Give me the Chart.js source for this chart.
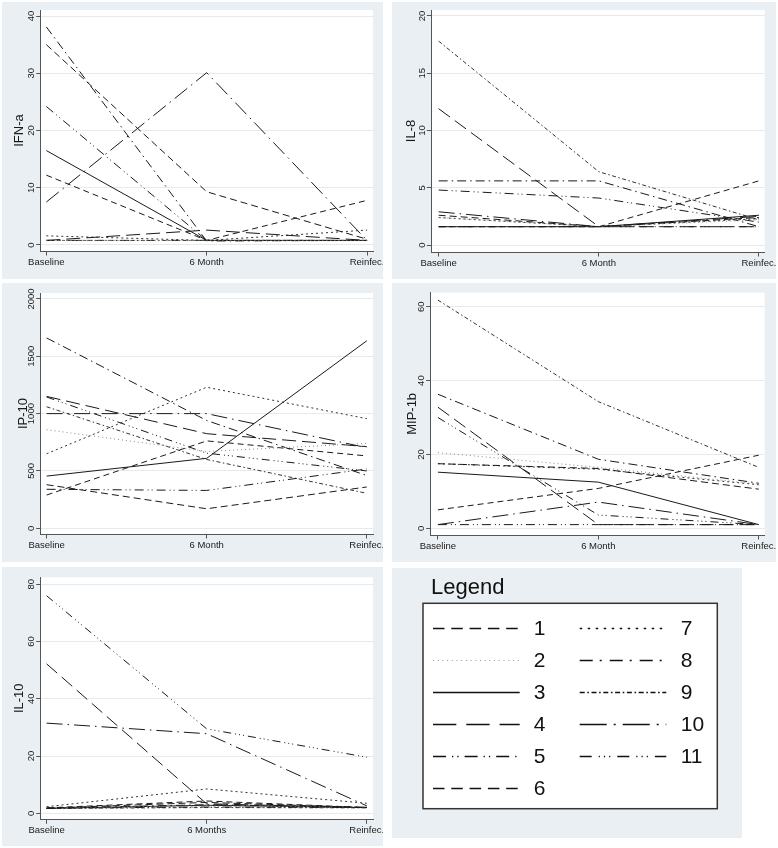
<!DOCTYPE html>
<html><head><meta charset="utf-8">
<script src="https://cdn.jsdelivr.net/npm/chart.js@4.4.1/dist/chart.umd.min.js"></script>
<style>
html,body{margin:0;padding:0;background:#fff;width:778px;height:848px;overflow:hidden}
canvas{position:absolute;background:#e9eff2}
</style></head><body>
<canvas id="p1" width="381" height="277" style="left:2px;top:2px"></canvas>
<canvas id="p2" width="384" height="277" style="left:392px;top:2px"></canvas>
<canvas id="p3" width="381" height="279" style="left:2px;top:283px"></canvas>
<canvas id="p4" width="384" height="279" style="left:392px;top:283px"></canvas>
<canvas id="p5" width="381" height="279" style="left:2px;top:567px"></canvas>
<canvas id="lg" width="350" height="270" style="left:392px;top:568px"></canvas>
<script>
// ---------- data ----------
const categories = ['Baseline', '6 Month', 'Reinfec.'];
const categoriesIL10 = ['Baseline', '6 Months', 'Reinfec.'];
const seriesNames = ['1','2','3','4','5','6','7','8','9','10','11'];

const ifnA = [
  [35.0, 9.3, 1.0],
  [0.8, 0.8, 0.8],
  [16.5, 0.8, 0.8],
  [0.8, 2.6, 0.8],
  [24.2, 0.8, 0.8],
  [12.2, 0.8, 7.8],
  [1.6, 0.8, 2.6],
  [38.1, 0.7, 0.8],
  [0.8, 0.8, 0.8],
  [7.5, 30.1, 0.8],
  [0.8, 0.8, 0.8]
];
const ifnATicks = [0, 10, 20, 30, 40];

const il8 = [
  [2.6, 1.6, 2.4],
  [2.4, 1.6, 2.2],
  [1.6, 1.6, 2.6],
  [11.9, 1.6, 1.6],
  [4.8, 4.1, 2.0],
  [1.6, 1.6, 5.6],
  [2.4, 1.6, 2.3],
  [5.6, 5.6, 1.6],
  [17.8, 6.4, 2.2],
  [2.9, 1.6, 2.5],
  [1.6, 1.6, 1.6]
];
const il8Ticks = [0, 5, 10, 15, 20];

const ip10 = [
  [380, 170, 360],
  [860, 670, 740],
  [455, 610, 1635],
  [1150, 825, 712],
  [340, 330, 517],
  [290, 762, 631],
  [650, 1230, 956],
  [1660, 940, 460],
  [1060, 600, 305],
  [1000, 1000, 703],
  [1145, 655, 500]
];
const ip10Ticks = [0, 500, 1000, 1500, 2000];

const mip1b = [
  [17.5, 16.2, 10.6],
  [20.5, 16.5, 12.0],
  [15.2, 12.5, 1.0],
  [32.8, 1.0, 1.0],
  [1.0, 1.0, 1.0],
  [5.0, 10.8, 19.8],
  [17.5, 16.0, 11.8],
  [36.3, 18.7, 12.2],
  [61.8, 34.3, 16.5],
  [1.0, 7.1, 1.0],
  [30.0, 3.6, 1.0]
];
const mip1bTicks = [0, 20, 40, 60];

const il10 = [
  [1.8, 3.8, 2.0],
  [2.0, 2.5, 2.2],
  [1.7, 2.8, 2.0],
  [52.2, 3.3, 2.0],
  [1.8, 2.2, 2.0],
  [1.9, 4.3, 2.0],
  [2.3, 8.5, 3.5],
  [1.8, 3.0, 2.1],
  [1.7, 2.0, 1.9],
  [31.5, 27.8, 2.6],
  [76.0, 29.5, 19.6]
];
const il10Ticks = [0, 20, 40, 60, 80];

// ---------- styles ----------
const FONT = "'Liberation Sans', Arial, Helvetica, sans-serif";
Chart.defaults.font.family = FONT;
Chart.defaults.color = '#1a1a1a';
const lineColors = ['#1a1a1a','#8a8a8a','#1a1a1a','#1a1a1a','#1a1a1a','#1a1a1a','#333','#1a1a1a','#333','#1a1a1a','#1a1a1a'];
const plotDash = [
  [7,4], [1,3], [], [14,6], [9,4,1,3,1,4], [6,4], [2,3],
  [9,4,1.5,4], [4,2.5,1.5,2.5], [16,5,1.5,5], [8,4,1,3,1,3,1,4]
];
const legendDash = [
  [11.5,6.8], [1,3.7], [], [23.3,10], [13,6,1.3,4,1.3,6], [11.5,6.8], [2.5,5.5],
  [13,7,2,8], [5,2.6,1.6,2.6], [27,7,2,7], [12,7,1.2,4,1.2,4,1.2,7]
];
const TICK_SIZE = 9.5, TICK_LEN = 4.5, TITLE_SIZE = 13;

const mctx = document.createElement('canvas').getContext('2d');
function widest(labels) {
  mctx.font = TICK_SIZE + 'px ' + FONT;
  return Math.max(...labels.map(l => mctx.measureText(String(l)).width));
}

const plotBg = {
  id: 'plotBg',
  beforeDraw(chart) {
    const a = chart.chartArea, c = chart.ctx;
    c.save(); c.fillStyle = '#ffffff';
    c.fillRect(a.left, a.top, a.right - a.left, a.bottom - a.top);
    c.restore();
  }
};

function makePanel(id, values, cats, yTicks, yTitle, g) {
  const datasets = values.map((row, i) => ({
    label: seriesNames[i],
    data: row.map((v, j) => ({ x: j, y: v })),
    borderColor: lineColors[i],
    borderWidth: 1,
    borderDash: plotDash[i],
    pointRadius: 0,
    fill: false,
    tension: 0
  }));
  const pad = 9 - TICK_LEN - widest(yTicks) / 2;
  new Chart(document.getElementById(id), {
    type: 'line',
    data: { datasets },
    plugins: [plotBg],
    options: {
      responsive: false,
      animation: false,
      events: [],
      layout: { padding: { left: 0, top: g.pt, right: g.pr, bottom: 0 } },
      plugins: { legend: { display: false }, tooltip: { enabled: false } },
      scales: {
        x: {
          type: 'linear', min: g.xMin, max: g.xMax,
          afterBuildTicks: s => { s.ticks = cats.map((c, i) => ({ value: i })); },
          afterFit: s => { s.height = g.H; s.paddingLeft = 0; s.paddingRight = 0; },
          ticks: { callback: v => cats[v], font: { size: TICK_SIZE }, padding: 0.8, maxRotation: 0, autoSkip: false, color: '#1a1a1a' },
          grid: { drawOnChartArea: false, drawTicks: true, tickLength: TICK_LEN, tickColor: '#555', tickWidth: 1 },
          border: { display: true, color: '#555', width: 1 }
        },
        y: {
          type: 'linear', min: g.yMin, max: g.yMax,
          afterBuildTicks: s => { s.ticks = yTicks.map(v => ({ value: v })); },
          afterFit: s => { s.width = g.W; s.paddingTop = 0; s.paddingBottom = 0; },
          ticks: { callback: v => String(v), font: { size: TICK_SIZE }, minRotation: 90, maxRotation: 90,
                   crossAlign: 'center', padding: pad, autoSkip: false, color: '#1a1a1a' },
          grid: { color: '#e5eaec', lineWidth: 1, drawTicks: true, tickLength: TICK_LEN, tickColor: '#555', tickWidth: 1 },
          border: { display: true, color: '#555', width: 1 },
          title: { display: true, text: yTitle, font: { size: TITLE_SIZE }, color: '#1a1a1a',
                   padding: { top: g.tc - TITLE_SIZE * 0.6, bottom: 0 } }
        }
      }
    }
  });
}

makePanel('p1', ifnA, categories, ifnATicks, 'IFN-a',
  { W: 38.7, H: 28, pt: 8, pr: 10, xMin: -0.035, xMax: 2.037, yMin: -1.05, yMax: 41.05, tc: 17 });
makePanel('p2', il8, categories, il8Ticks, 'IL-8',
  { W: 39.3, H: 27, pt: 8, pr: 11.3, xMin: -0.046, xMax: 2.036, yMin: -0.61, yMax: 20.52, tc: 19.3 });
makePanel('p3', ip10, categories, ip10Ticks, 'IP-10',
  { W: 38.7, H: 28, pt: 10, pr: 10, xMin: -0.037, xMax: 2.039, yMin: -50, yMax: 2052, tc: 21 });
makePanel('p4', mip1b, categories, mip1bTicks, 'MIP-1b',
  { W: 38.7, H: 27, pt: 9.7, pr: 11.3, xMin: -0.045, xMax: 2.037, yMin: -1.81, yMax: 63.8, tc: 20 });
makePanel('p5', il10, categoriesIL10, il10Ticks, 'IL-10',
  { W: 38.7, H: 26.7, pt: 10.3, pr: 10, xMin: -0.037, xMax: 2.039, yMin: -2.1, yMax: 82.45, tc: 17 });

// ---------- legend panel ----------
const legendPlugin = {
  id: 'stataLegend',
  afterDraw(chart) {
    const c = chart.ctx;
    c.save();
    c.fillStyle = '#111';
    c.font = '22px ' + FONT;
    c.textBaseline = 'alphabetic';
    c.fillText('Legend', 39, 25.5);
    c.fillStyle = '#fff';
    c.fillRect(31, 35.3, 294.3, 205.4);
    c.strokeStyle = '#333'; c.lineWidth = 1.5;
    c.strokeRect(31, 35.3, 294.3, 205.4);
    chart.data.datasets.forEach((ds, i) => {
      const col = i < 6 ? 0 : 1, row = i < 6 ? i : i - 6;
      const y = 60.5 + 32 * row;
      const x0 = col ? 187.7 : 41, x1 = col ? 274.3 : 127.7, tx = col ? 288.7 : 141.7;
      c.beginPath();
      c.setLineDash(legendDash[i]);
      c.strokeStyle = i === 1 ? '#999' : '#111';
      c.lineWidth = i === 1 ? 1.2 : 1.6;
      c.moveTo(x0, y); c.lineTo(x1, y); c.stroke();
      c.setLineDash([]);
      c.fillStyle = '#111';
      c.font = '21px ' + FONT;
      c.textBaseline = 'middle';
      c.fillText(ds.label, tx, y + 1);
    });
    c.restore();
  }
};
new Chart(document.getElementById('lg'), {
  type: 'line',
  data: { datasets: seriesNames.map(n => ({ label: n, data: [] })) },
  plugins: [legendPlugin],
  options: {
    responsive: false, animation: false, events: [],
    plugins: { legend: { display: false }, tooltip: { enabled: false } },
    scales: { x: { display: false }, y: { display: false } }
  }
});
</script>
</body></html>
